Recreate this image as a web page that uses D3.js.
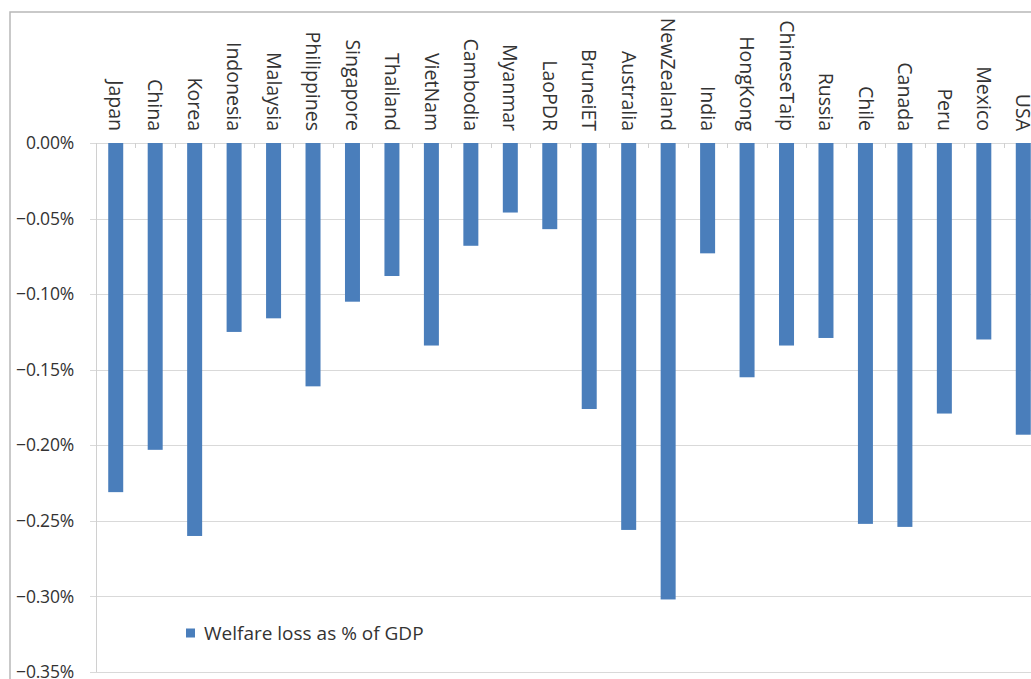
<!DOCTYPE html>
<html>
<head>
<meta charset="utf-8">
<script src="https://cdn.jsdelivr.net/npm/d3@7"></script>
<style>
  html, body { margin: 0; padding: 0; background: #fff; overflow: hidden; }
  svg { display: block; }
</style>
</head>
<body>
<div id="chart"></div>
<script>
// economies, left to right
const economies = ["Japan", "China", "Korea", "Indonesia", "Malaysia", "Philippines", "Singapore",
    "Thailand", "VietNam", "Cambodia", "Myanmar", "LaoPDR", "BruneiET", "Australia", "NewZealand",
    "India", "HongKong", "ChineseTaip", "Russia", "Chile", "Canada", "Peru", "Mexico", "USA"];

// welfare loss as % of GDP
const welfareLoss = [-0.231, -0.203, -0.260, -0.125, -0.116, -0.161, -0.105,
    -0.088, -0.134, -0.068, -0.046, -0.057, -0.176, -0.256, -0.302,
    -0.073, -0.155, -0.134, -0.129, -0.252, -0.254, -0.179, -0.130, -0.193];

const yTicks = [0, -0.05, -0.10, -0.15, -0.20, -0.25, -0.30, -0.35];
const legendLabel = "Welfare loss as % of GDP";

const width = 1031;
const height = 679;
const margin = {top: 143, left: 96, bottom: 7};
const plotRight = 1043;   // plot runs past the window edge, like the cropped original
const barColor = "#4a7ebb";
const textColor = "#333333";
const font = "'Open Sans', 'DejaVu Sans', sans-serif";

const data = economies.map((name, i) => ({name: name, value: welfareLoss[i]}));

const svg = d3.select("#chart").append("svg")
    .attr("width", width)
    .attr("height", height);

// chart frame (only top and left edges show in the crop)
svg.append("path")
    .attr("d", `M10,${height} V12 H${width}`)
    .attr("fill", "none")
    .attr("stroke", "#b8b8b8")
    .attr("stroke-width", 1.5);

const x = d3.scaleBand()
    .domain(economies)
    .range([margin.left, plotRight])
    .paddingInner(0.62)
    .paddingOuter(0.31);

const y = d3.scaleLinear()
    .domain([0, -0.35])
    .range([margin.top, height - margin.bottom]);

// gridlines
svg.append("g")
    .selectAll("line")
    .data(yTicks)
    .enter().append("line")
    .attr("x1", margin.left - 6)
    .attr("x2", plotRight)
    .attr("y1", d => Math.round(y(d)) + 0.5)
    .attr("y2", d => Math.round(y(d)) + 0.5)
    .attr("stroke", "#d9d9d9")
    .attr("stroke-width", 1);

// y axis labels
svg.append("g")
    .selectAll("text")
    .data(yTicks)
    .enter().append("text")
    .attr("x", 74)
    .attr("y", d => y(d))
    .attr("dy", "0.35em")
    .attr("text-anchor", "end")
    .attr("font-family", font)
    .attr("font-size", 17.5)
    .attr("letter-spacing", -0.2)
    .attr("fill", textColor)
    .text(d => d3.format(".2%")(d / 100));

// vertical axis line
svg.append("line")
    .attr("x1", margin.left + 0.5)
    .attr("x2", margin.left + 0.5)
    .attr("y1", margin.top)
    .attr("y2", height - margin.bottom)
    .attr("stroke", "#d0d0d0");

// bars
svg.append("g")
    .selectAll("rect")
    .data(data)
    .enter().append("rect")
    .attr("x", d => x(d.name))
    .attr("y", y(0))
    .attr("width", x.bandwidth())
    .attr("height", d => y(d.value) - y(0))
    .attr("fill", barColor);

// category ticks on the zero line
const step = x.step();
svg.append("g")
    .selectAll("line")
    .data(economies.slice(1))
    .enter().append("line")
    .attr("x1", (d, i) => Math.round(margin.left + (i + 1) * step) + 0.5)
    .attr("x2", (d, i) => Math.round(margin.left + (i + 1) * step) + 0.5)
    .attr("y1", y(0))
    .attr("y2", y(0) + 5)
    .attr("stroke", "#d0d0d0");

// category labels, rotated, above the plot
svg.append("g")
    .selectAll("text")
    .data(economies)
    .enter().append("text")
    .attr("transform", d => `translate(${x(d) + x.bandwidth() / 2},131) rotate(90)`)
    .attr("dy", "0.35em")
    .attr("text-anchor", "end")
    .attr("font-family", font)
    .attr("font-size", 19.5)
    .attr("fill", textColor)
    .text(d => d);

// legend
const legend = svg.append("g").attr("transform", "translate(186,633)");
legend.append("rect")
    .attr("x", 0)
    .attr("y", -4.5)
    .attr("width", 9)
    .attr("height", 9)
    .attr("fill", barColor);
legend.append("text")
    .attr("x", 18)
    .attr("y", 0)
    .attr("dy", "0.35em")
    .attr("font-family", font)
    .attr("font-size", 19)
    .attr("fill", textColor)
    .text(legendLabel);
</script>
</body>
</html>
